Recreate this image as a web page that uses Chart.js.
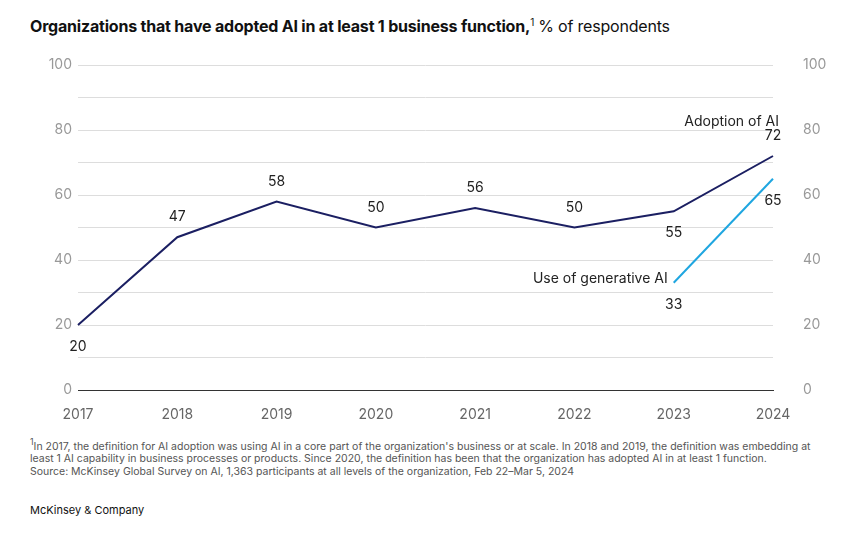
<!DOCTYPE html>
<html lang="en">
<head>
<meta charset="UTF-8">
<script src="https://cdn.jsdelivr.net/npm/chart.js"></script>
<style>
  body { margin: 0; width: 850px; height: 544px; background: #fff; font-family: Inter, Arial, sans-serif; position: relative; overflow: hidden; }
  .title { position: absolute; left: 30px; top: 16px; font-size: 16px; color: #111; letter-spacing: -0.2px; }
  .title b { font-weight: 700; }
  .title sup { font-size: 10px; }
  .chart { position: absolute; left: 0; top: 0; width: 850px; height: 430px; }
  .notes { position: absolute; left: 30px; top: 436px; font-size: 10.5px; line-height: 12.5px; color: #555; width: 800px; }
  .brand { position: absolute; left: 30px; top: 503px; font-size: 11px; color: #111; }
</style>
</head>
<body>
<div class="title"><b>Organizations that have adopted AI in at least 1 business function,</b><sup>1</sup> % of respondents</div>
<div class="chart"><canvas id="c" width="850" height="430"></canvas></div>
<div class="notes"><sup>1</sup>In 2017, the definition for AI adoption was using AI in a core part of the organization's business or at scale. In 2018 and 2019, the definition was embedding at least 1 AI capability in business processes or products. Since 2020, the definition has been that the organization has adopted AI in at least 1 function.<br>Source: McKinsey Global Survey on AI, 1,363 participants at all levels of the organization, Feb 22–Mar 5, 2024</div>
<div class="brand">McKinsey &amp; Company</div>
<script>
const years = ['2017', '2018', '2019', '2020', '2021', '2022', '2023', '2024'];
const adoption = [20, 47, 58, 50, 56, 50, 55, 72];
const genAI = [null, null, null, null, null, null, 33, 65];
const adoptionLabelPos = ['below', 'above', 'above', 'above', 'above', 'above', 'below', 'above'];
const genAILabelPos = [null, null, null, null, null, null, 'below', 'below'];

const labelPlugin = {
  id: 'labels',
  afterDatasetsDraw(chart) {
    const ctx = chart.ctx;
    ctx.save();
    ctx.font = '14px Inter, Arial, sans-serif';
    ctx.fillStyle = '#222';
    ctx.textAlign = 'center';
    ctx.textBaseline = 'middle';
    [adoptionLabelPos, genAILabelPos].forEach((pos, di) => {
      chart.getDatasetMeta(di).data.forEach((pt, i) => {
        const v = chart.data.datasets[di].data[i];
        if (v == null) return;
        const dy = pos[i] === 'above' ? -20 : 22;
        ctx.fillText(String(v), pt.x, pt.y + dy);
      });
    });
    const last = chart.getDatasetMeta(0).data[7];
    ctx.textAlign = 'right';
    ctx.fillText('Adoption of AI', last.x + 6, last.y - 34);
    const g = chart.getDatasetMeta(1).data[6];
    ctx.fillText('Use of generative AI', g.x - 6, g.y - 4);
    ctx.restore();
  }
};

const tickFont = { family: 'Inter, Arial, sans-serif', size: 14 };
new Chart(document.getElementById('c'), {
  type: 'line',
  data: {
    labels: years,
    datasets: [
      { data: adoption, borderColor: '#1b1f62', borderWidth: 2, pointRadius: 0, tension: 0 },
      { data: genAI, borderColor: '#1fa6e0', borderWidth: 2, pointRadius: 0, tension: 0 }
    ]
  },
  options: {
    responsive: false,
    animation: false,
    layout: { padding: { top: 65, left: 0, right: 0, bottom: 0 } },
    plugins: { legend: { display: false }, tooltip: { enabled: false } },
    scales: {
      x: {
        offset: false,
        grid: { display: false },
        border: { color: '#333', width: 1 },
        ticks: { color: '#666', font: tickFont, padding: 8, maxRotation: 0 },
        afterFit(s) { s.height = 40; }
      },
      y: {
        min: 0, max: 100,
        grid: { color: ctx => ctx.tick.value === 0 ? '#333' : '#ddd', drawTicks: false },
        border: { display: false },
        ticks: { stepSize: 10, color: '#999', font: tickFont, padding: 6,
          callback: v => v % 20 === 0 ? v : '' },
        afterFit(s) { s.width = 78; }
      },
      y2: {
        position: 'right',
        min: 0, max: 100,
        grid: { display: false },
        border: { display: false },
        ticks: { stepSize: 20, color: '#999', font: tickFont, padding: 22 },
        afterFit(s) { s.width = 77; }
      }
    }
  },
  plugins: [labelPlugin]
});
</script>
</body>
</html>
